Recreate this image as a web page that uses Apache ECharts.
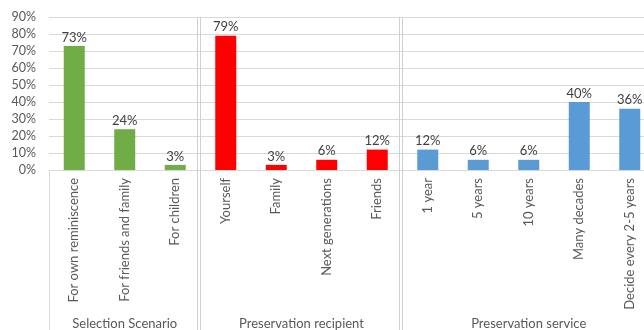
<!DOCTYPE html>
<html><head><meta charset="utf-8">
<script src="https://cdn.jsdelivr.net/npm/echarts@6/dist/echarts.min.js"></script>
<style>html,body{margin:0;padding:0;background:#fff}#c{width:644px;height:330px}</style>
</head><body><div id="c"></div>
<script>
var groupNames = ["Selection Scenario", "Preservation recipient", "Preservation service"];
var groupColors = ["#70AD47", "#FF0000", "#5B9BD5"];
var selCats = ["For own reminiscence", "For friends and family", "For children"];
var selVals = [73, 24, 3];
var recCats = ["Yourself", "Family", "Next generations", "Friends"];
var recVals = [79, 3, 6, 12];
var srvCats = ["1 year", "5 years", "10 years", "Many decades", "Decide every 2-5 years"];
var srvVals = [12, 6, 6, 40, 36];
var yTicks = [0, 10, 20, 30, 40, 50, 60, 70, 80, 90];

var groups = [[selCats, selVals], [recCats, recVals], [srvCats, srvVals]];
var cats = [], data = [], centers = [], bounds = [], start = 0;
groups.forEach(function (g, gi) {
  g[0].forEach(function (c, i) {
    cats.push(c);
    data.push({ value: g[1][i], itemStyle: { color: groupColors[gi] } });
  });
  centers.push(start + g[0].length / 2);
  start += g[0].length;
  if (gi < groups.length - 1) bounds.push(start);
});
var total = cats.length;
var font = "Lato";
var chart = echarts.init(document.getElementById('c'));
chart.setOption({
  animation: false,
  grid: { left: 49, top: 17, right: -11, bottom: 160, containLabel: false, outerBoundsMode: 'none' },
  xAxis: [{
    type: 'category', data: cats,
    axisLine: { show: false }, axisTick: { show: false },
    axisLabel: { rotate: 90, interval: 0, color: '#595959', fontFamily: font, fontSize: 13, margin: 8 }
  }, {
    type: 'value', min: 0, max: total, position: 'bottom', offset: 139,
    axisLine: { show: false }, axisTick: { show: false }, splitLine: { show: false },
    axisLabel: {
      customValues: centers, color: '#595959', fontFamily: font, fontSize: 13, margin: 8,
      formatter: function (v) { var k = centers.indexOf(v); return k >= 0 ? groupNames[k] : ''; }
    }
  }],
  yAxis: {
    type: 'value', min: yTicks[0], max: yTicks[yTicks.length - 1], interval: 10,
    axisLine: { show: false }, axisTick: { show: false },
    splitLine: { lineStyle: { color: '#d9d9d9', width: 1 } },
    axisLabel: { formatter: '{value}%', color: '#595959', fontFamily: font, fontSize: 12.5, margin: 13 }
  },
  series: [{
    type: 'bar', data: data, barWidth: 21,
    label: { show: true, position: 'top', distance: 2, formatter: '{c}%', color: '#404040', fontFamily: font, fontSize: 13 }
  }]
});

function drawSeparators() {
  var top = chart.convertToPixel({ yAxisIndex: 0 }, yTicks[yTicks.length - 1]);
  var zero = chart.convertToPixel({ yAxisIndex: 0 }, 0);
  var bottom = chart.getHeight();
  var els = [];
  var lx = Math.round(chart.convertToPixel({ xAxisIndex: 1 }, 0)) + 0.5;
  els.push({ type: 'line', shape: { x1: lx, y1: zero, x2: lx, y2: bottom }, style: { stroke: '#d9d9d9', lineWidth: 1 }, silent: true });
  bounds.forEach(function (b) {
    var px = Math.round(chart.convertToPixel({ xAxisIndex: 1 }, b));
    [px - 3.5, px - 0.5].forEach(function (x) {
      els.push({ type: 'line', shape: { x1: x, y1: top, x2: x, y2: bottom }, style: { stroke: '#d0d0d0', lineWidth: 1 }, silent: true });
    });
  });
  chart.setOption({ graphic: els });
}
drawSeparators();
</script></body></html>
